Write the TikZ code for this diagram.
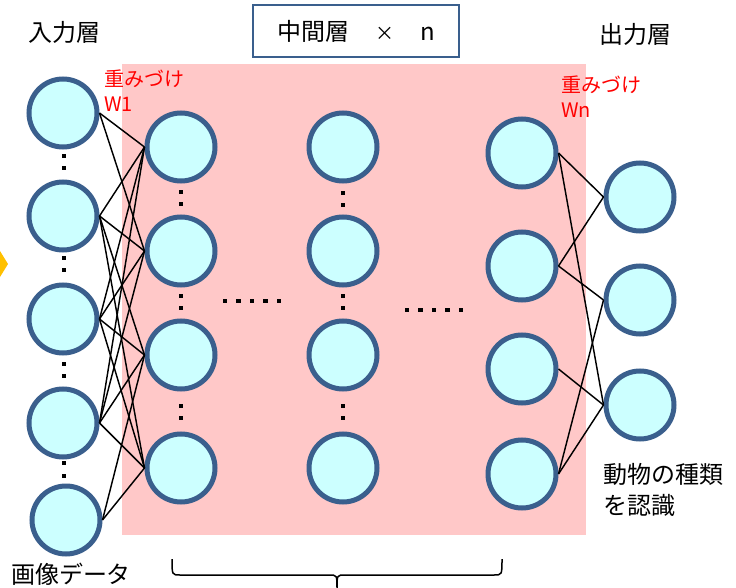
\documentclass[tikz,border=0pt]{standalone}
\usepackage{fontspec}
\setmainfont{Noto Sans CJK JP}
\definecolor{pinkbg}{HTML}{FFC8C8}
\definecolor{nfill}{HTML}{CCFFFF}
\definecolor{nborder}{HTML}{3A5F8D}
\definecolor{orangec}{HTML}{FFC000}
\definecolor{redtxt}{HTML}{FF0000}
\begin{document}
\begin{tikzpicture}[x=1pt,y=-1pt,
  neuron/.style={circle, draw=nborder, fill=nfill, line width=5pt, minimum size=68pt, inner sep=0pt},
  link/.style={line width=1.45pt, black},
  bigtxt/.style={inner sep=0pt, font=\fontsize{24}{31}\selectfont, align=left},
  wtxt/.style={inner sep=0pt, font=\fontsize{20}{25}\selectfont, text=redtxt, align=left, anchor=north west},
  boxtxt/.style={draw=nborder, line width=1.3pt, fill=white, minimum width=206pt, minimum height=52pt, inner sep=0pt, font=\fontsize{24}{30}\selectfont},
  dotsq/.style={fill=black}
]
\useasboundingbox (0,0) rectangle (736,588);
% background panel
\fill[pinkbg] (122,64) rectangle (586,535);
% orange arrow tip at left edge
\fill[orangec] (0,251) -- (8,264) -- (0,277) -- cycle;

% title box
\node[boxtxt] (mid) at (356,31) {中間層\hspace{26pt}{\fontsize{19}{24}\selectfont ×}\hspace{26pt}n};

% labels
\node[bigtxt] (inlab) at (64.5,32) {入力層};
\node[bigtxt] (outlab) at (635,34) {出力層};
\node[bigtxt] (imglab) at (71,574) {画像データ};
\node[bigtxt, anchor=north west] (reclab) at (603,463) {動物の種類\\を認識};
\node[wtxt] (w1) at (104,70) {重みづけ\\W1};
\node[wtxt] (wn) at (561,76) {重みづけ\\Wn};

% input layer
\node[neuron] (i1) at (63,113) {};
\node[neuron] (i2) at (63,216) {};
\node[neuron] (i3) at (63,319) {};
\node[neuron] (i4) at (63,423) {};
\node[neuron] (i5) at (66,520) {};
% hidden column 1
\node[neuron] (a1) at (181,147) {};
\node[neuron] (a2) at (181,251) {};
\node[neuron] (a3) at (181,355) {};
\node[neuron] (a4) at (181,468) {};
% hidden column 2
\node[neuron] (b1) at (343,147) {};
\node[neuron] (b2) at (343,251) {};
\node[neuron] (b3) at (343,355) {};
\node[neuron] (b4) at (343,468) {};
% hidden column 3
\node[neuron] (c1) at (522,153) {};
\node[neuron] (c2) at (522,266) {};
\node[neuron] (c3) at (522,369) {};
\node[neuron] (c4) at (522,474) {};
% output layer
\node[neuron] (o1) at (640,197) {};
\node[neuron] (o2) at (640,300) {};
\node[neuron] (o3) at (640,405) {};

% connections input -> hidden 1
\draw[link] (i1.east) -- (a1.west);
\draw[link] (i1.east) -- (a2.west);
\foreach \s in {i2,i3,i4}{
  \foreach \t in {a1,a2,a3,a4}{
    \draw[link] (\s.east) -- (\t.west);
  }
}
\draw[link] (i5.east) -- (a3.west);
\draw[link] (i5.east) -- (a4.west);
% connections hidden 3 -> output
\draw[link] (c1.east) -- (o1.west);
\draw[link] (c1.east) -- (o3.west);
\draw[link] (c2.east) -- (o1.west);
\draw[link] (c2.east) -- (o2.west);
\draw[link] (c3.east) -- (o3.west);
\draw[link] (c4.east) -- (o2.west);
\draw[link] (c4.east) -- (o3.west);

% vertical dots
\foreach \x/\y in {64/156,64/168,64/258,64/270,64/364,64/376,64/463,64/476,
                   181/192,181/204,181/296,181/308,181/406,181/418,
                   343/193,343/205,343/296,343/308,343/406,343/418}{
  \fill[dotsq] (\x-2.2,\y-2.2) rectangle (\x+2.2,\y+2.2);
}
% horizontal dots
\foreach \x in {225,238.5,252,265.5,279}{
  \fill[dotsq] (\x-2.2,298.8) rectangle (\x+2.2,303.2);
}
\foreach \x in {407,420.5,434,447.5,461}{
  \fill[dotsq] (\x-2.2,307.8) rectangle (\x+2.2,312.2);
}

% brace under hidden layers
\coordinate (bl) at (172,559);
\coordinate (br) at (502,559);
\coordinate (bt) at (337,588);
\draw[line width=1.5pt] (bl) .. controls (172,575) .. (180,575) -- (329,575)
  .. controls (337,575) .. (bt) .. controls (337,575) .. (345,575) -- (494,575)
  .. controls (502,575) .. (br);
\end{tikzpicture}
\end{document}
